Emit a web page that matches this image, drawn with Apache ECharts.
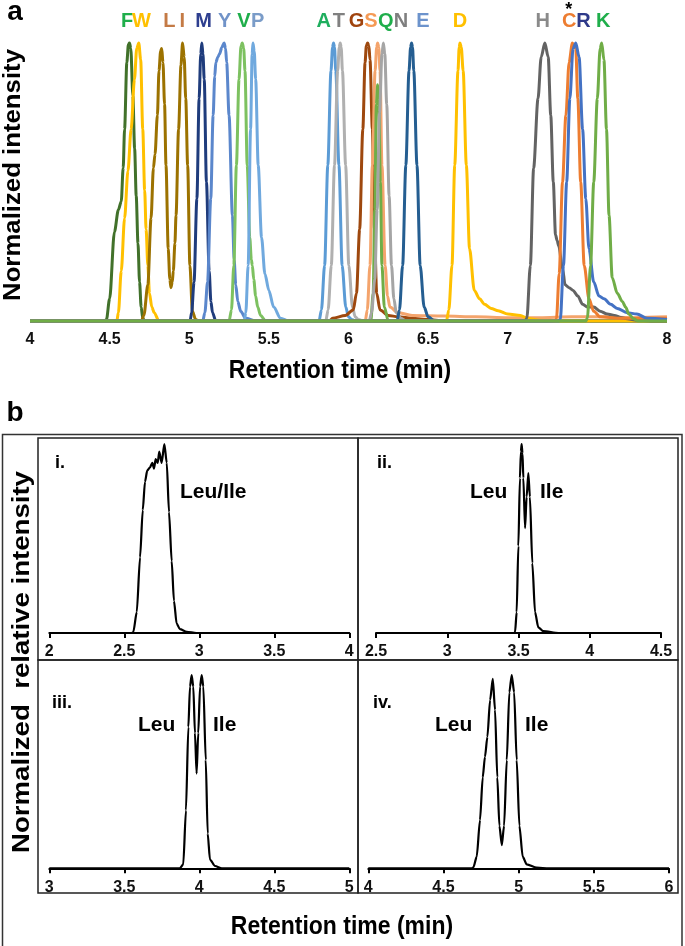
<!DOCTYPE html>
<html><head><meta charset="utf-8">
<script src="https://cdn.jsdelivr.net/npm/echarts@6/dist/echarts.min.js"></script>
<style>html,body{margin:0;padding:0;background:#fff}#c{width:685px;height:946px}</style>
</head><body><div id="c"></div><script>
// ---------- Panel a: amino-acid labels ----------
const aaLetters = ['F','W','L','I','M','Y','V','P','A','T','G','S','Q','N','E','D','H','C','R','K'];
const aaLabelTimes = [4.61,4.70,4.875,4.956,5.09,5.223,5.344,5.43,5.845,5.94,6.05,6.14,6.234,6.33,6.467,6.70,7.22,7.386,7.475,7.60];
const aaLabelColors = ['#1FAE4B','#FFC000','#C47A45','#C47A45','#2E3F8F','#7193C8','#1FAE4B','#7A9CC8','#1FAE5E','#808080','#A0440E','#F59A55','#1FAE4B','#7F7F7F','#6C93CC','#FFC000','#8A8A8A','#ED7D31','#2F3A8A','#1FAE4B'];
const asteriskTime = 7.383;
const xTicksA = [4, 4.5, 5, 5.5, 6, 6.5, 7, 7.5, 8];

// ---------- Panel a: traces [time (min), normalized intensity] ----------
const traceF = [[4,0],[4.47,0],[4.48,0.005],[4.50,0.08],[4.53,0.32],[4.555,0.4],[4.573,0.43],[4.585,0.55],[4.594,0.69],[4.608,0.93],[4.618,0.995],[4.625,1],[4.633,0.98],[4.646,0.81],[4.657,0.62],[4.667,0.45],[4.678,0.28],[4.688,0.14],[4.698,0.05],[4.708,0.01],[4.72,0],[8,0]];
const traceW = [[4,0],[4.545,0],[4.555,0.03],[4.573,0.18],[4.594,0.37],[4.615,0.54],[4.635,0.69],[4.656,0.87],[4.67,0.98],[4.683,1],[4.695,0.94],[4.708,0.69],[4.72,0.47],[4.729,0.33],[4.74,0.2],[4.75,0.1],[4.765,0.05],[4.78,0.03],[4.81,0],[8,0]];
const traceLI = [[4,0],[4.70,0],[4.715,0.02],[4.74,0.13],[4.76,0.37],[4.775,0.55],[4.785,0.6],[4.80,0.74],[4.81,0.9],[4.82,0.97],[4.827,0.98],[4.835,0.93],[4.845,0.78],[4.854,0.56],[4.868,0.26],[4.878,0.15],[4.885,0.12],[4.893,0.14],[4.9,0.18],[4.91,0.28],[4.917,0.38],[4.933,0.69],[4.948,0.92],[4.958,1],[4.968,0.95],[4.978,0.8],[4.99,0.56],[5.004,0.2],[5.02,0.035],[5.04,0.005],[5.06,0],[8,0]];
const traceM = [[4,0],[5.005,0],[5.015,0.03],[5.03,0.14],[5.048,0.44],[5.062,0.8],[5.072,0.96],[5.079,1],[5.086,0.96],[5.094,0.87],[5.108,0.5],[5.125,0.18],[5.136,0.07],[5.146,0.03],[5.167,0],[8,0]];
const traceY = [[4,0],[5.085,0],[5.098,0.03],[5.115,0.14],[5.135,0.44],[5.15,0.74],[5.16,0.88],[5.167,0.93],[5.18,0.95],[5.19,0.96],[5.205,0.985],[5.219,1],[5.228,0.98],[5.235,0.93],[5.25,0.74],[5.271,0.38],[5.282,0.22],[5.292,0.13],[5.305,0.07],[5.323,0.035],[5.354,0.01],[5.42,0],[8,0]];
const traceV = [[4,0],[5.25,0],[5.265,0.04],[5.28,0.2],[5.296,0.56],[5.3125,0.87],[5.325,0.99],[5.333,1],[5.342,0.98],[5.35,0.9],[5.364,0.56],[5.38,0.3],[5.39,0.22],[5.396,0.2],[5.405,0.15],[5.417,0.09],[5.43,0.05],[5.448,0.02],[5.48,0],[8,0]];
const traceP = [[4,0],[5.345,0],[5.355,0.03],[5.37,0.2],[5.385,0.69],[5.395,0.96],[5.40,1],[5.408,0.97],[5.417,0.87],[5.433,0.56],[5.454,0.3],[5.475,0.17],[5.5,0.11],[5.53,0.05],[5.573,0.01],[5.625,0],[8,0]];
const traceA = [[4,0],[5.815,0],[5.83,0.04],[5.85,0.2],[5.87,0.56],[5.89,0.9],[5.9,0.985],[5.906,1],[5.912,0.985],[5.92,0.9],[5.94,0.56],[5.96,0.2],[5.983,0.05],[6.0,0.015],[6.02,0.005],[6.05,0],[8,0]];
const traceT = [[4,0],[5.857,0],[5.872,0.04],[5.892,0.2],[5.912,0.56],[5.932,0.9],[5.942,0.985],[5.948,1],[5.954,0.985],[5.962,0.9],[5.982,0.56],[6.002,0.2],[6.025,0.05],[6.042,0.015],[6.062,0.005],[6.1,0],[8,0]];
const traceG = [[4,0],[5.88,0],[5.9,0.01],[5.98,0.02],[6.03,0.04],[6.05,0.1],[6.07,0.33],[6.09,0.69],[6.104,0.93],[6.112,0.99],[6.12,1],[6.128,0.99],[6.135,0.94],[6.15,0.69],[6.1625,0.33],[6.177,0.1],[6.198,0.04],[6.25,0.02],[6.31,0.015],[6.4,0.01],[6.5,0.005],[6.6,0],[8,0]];
const traceS = [[4,0],[6.105,0],[6.118,0.04],[6.135,0.2],[6.15,0.56],[6.167,0.9],[6.177,0.985],[6.183,1],[6.19,0.985],[6.198,0.9],[6.21,0.56],[6.23,0.2],[6.245,0.09],[6.26,0.05],[6.31,0.03],[6.4,0.02],[6.6,0.018],[6.8,0.015],[7.0,0.012],[7.2,0.012],[7.4,0.015],[7.6,0.015],[7.8,0.012],[8,0.015]];
const traceQ = [[4,0],[6.14,0],[6.155,0.1],[6.165,0.4],[6.175,0.78],[6.183,0.85],[6.19,0.8],[6.2,0.5],[6.21,0.2],[6.225,0.05],[6.25,0],[8,0]];
const traceN = [[4,0],[6.13,0],[6.145,0.03],[6.165,0.15],[6.18,0.4],[6.195,0.75],[6.21,0.96],[6.219,1],[6.228,0.96],[6.24,0.78],[6.255,0.45],[6.27,0.2],[6.285,0.08],[6.3,0.03],[6.33,0.01],[6.36,0],[8,0]];
const traceE = [[4,0],[6.305,0],[6.32,0.04],[6.34,0.2],[6.36,0.56],[6.38,0.9],[6.39,0.985],[6.396,1],[6.402,0.985],[6.41,0.9],[6.43,0.56],[6.45,0.2],[6.475,0.05],[6.5,0.015],[6.54,0],[8,0]];
const traceD = [[4,0],[6.615,0],[6.63,0.04],[6.65,0.2],[6.667,0.56],[6.6875,0.9],[6.695,0.985],[6.70,1],[6.708,0.985],[6.72,0.9],[6.74,0.56],[6.76,0.26],[6.79,0.11],[6.823,0.08],[6.854,0.06],[6.896,0.045],[6.94,0.037],[7.0,0.025],[7.08,0.02],[7.12,0.01],[7.2,0.003],[7.3,0],[8,0]];
const traceH = [[4,0],[7.11,0],[7.12,0.01],[7.142,0.2],[7.1625,0.55],[7.19,0.8],[7.21,0.95],[7.233,1],[7.254,0.95],[7.27,0.74],[7.286,0.5],[7.30,0.31],[7.31,0.29],[7.32,0.27],[7.344,0.19],[7.36,0.13],[7.385,0.12],[7.41,0.11],[7.44,0.09],[7.47,0.06],[7.5,0.05],[7.54,0.05],[7.58,0.035],[7.625,0.025],[7.67,0.02],[7.71,0.013],[7.75,0.008],[7.81,0.003],[7.9,0],[8,0]];
const traceC = [[4,0],[7.3,0],[7.306,0.01],[7.323,0.17],[7.344,0.5],[7.365,0.74],[7.385,0.93],[7.406,1],[7.427,0.98],[7.44,0.8],[7.458,0.5],[7.48,0.2],[7.51,0.08],[7.54,0.035],[7.58,0.015],[7.7,0.01],[8,0.01]];
const traceR = [[4,0],[7.32,0],[7.33,0.005],[7.35,0.2],[7.37,0.5],[7.39,0.8],[7.41,0.98],[7.427,1],[7.448,0.95],[7.47,0.69],[7.49,0.44],[7.51,0.26],[7.54,0.14],[7.573,0.09],[7.604,0.08],[7.646,0.06],[7.6875,0.045],[7.75,0.03],[7.81,0.025],[7.875,0.01],[8,0.005]];
const traceK = [[4,0],[7.49,0],[7.5,0.01],[7.52,0.2],[7.54,0.5],[7.5625,0.8],[7.58,0.98],[7.59,1],[7.604,0.94],[7.62,0.69],[7.636,0.38],[7.656,0.156],[7.6875,0.1],[7.72,0.07],[7.74,0.05],[7.76,0.025],[7.79,0.008],[7.82,0],[8,0]];

const tracesA = [traceF,traceW,traceLI,traceM,traceY,traceV,traceP,traceA,traceT,traceG,traceS,traceQ,traceN,traceE,traceD,traceH,traceC,traceR,traceK];
const traceNames = ['F','W','L/I','M','Y','V','P','A','T','G','S','Q','N','E','D','H','C','R','K'];
const traceColors = ['#41712A','#FFC000','#9C7200','#1F3C7C','#5B87CC','#7DC160','#70A9DE','#5B9BD5','#B0B0B0','#9E480E','#F4A46C','#70AD47','#A5A5A5','#255E91','#FFC000','#636363','#ED7D31','#4472C4','#70AD47'];

// ---------- Panel b: Leu/Ile traces ----------
const traceBi = [[2,0],[2.55,0],[2.56,0.005],[2.583,0.11],[2.605,0.4],[2.623,0.65],[2.638,0.8],[2.653,0.86],[2.67,0.875],[2.687,0.9],[2.698,0.87],[2.709,0.92],[2.723,0.9],[2.733,0.96],[2.749,0.9],[2.767,1],[2.783,0.9],[2.798,0.64],[2.816,0.38],[2.831,0.17],[2.849,0.05],[2.871,0.02],[2.916,0.006],[2.98,0],[4,0]];
const traceBii = [[2.5,0],[3.47,0],[3.476,0.005],[3.487,0.11],[3.499,0.46],[3.51,0.82],[3.517,0.96],[3.522,1],[3.528,0.95],[3.534,0.82],[3.546,0.555],[3.557,0.72],[3.569,0.846],[3.58,0.72],[3.597,0.37],[3.616,0.11],[3.639,0.03],[3.674,0.01],[3.78,0],[4.5,0]];
const traceBiii = [[3,0],[3.87,0],[3.893,0.02],[3.911,0.3],[3.927,0.73],[3.938,0.94],[3.949,1],[3.96,0.94],[3.971,0.7],[3.982,0.49],[3.993,0.7],[4.005,0.94],[4.016,1],[4.027,0.94],[4.043,0.56],[4.056,0.18],[4.071,0.045],[4.105,0.012],[4.15,0],[5,0]];
const traceBiv = [[4,0],[4.69,0],[4.699,0.005],[4.721,0.06],[4.743,0.25],[4.761,0.47],[4.776,0.577],[4.792,0.68],[4.81,0.87],[4.828,0.98],[4.843,0.82],[4.858,0.47],[4.872,0.22],[4.888,0.12],[4.903,0.22],[4.921,0.56],[4.938,0.91],[4.954,1],[4.97,0.91],[4.987,0.56],[5.005,0.22],[5.027,0.06],[5.054,0.02],[5.12,0.003],[5.2,0],[6,0]];
const bRanges = [[2,4],[2.5,4.5],[3,5],[4,6]];
const bTraces = [traceBi, traceBii, traceBiii, traceBiv];
const bPanelLabels = ['i.','ii.','iii.','iv.'];

const FONT = '"Liberation Sans", Arial, Helvetica, sans-serif';
const chart = echarts.init(document.getElementById('c'));

const grids = [
  {left:30, top:1.3, width:637, height:319.7},
  {left:49.3, top:444, width:300, height:189},
  {left:376, top:444, width:285, height:189},
  {left:49.3, top:675, width:300, height:193.3},
  {left:368.3, top:675, width:300.7, height:193.3}
];

const xAxes = [{
  gridIndex:0, type:'value', min:xTicksA[0], max:xTicksA[xTicksA.length-1], interval:0.5,
  axisLine:{show:false}, axisTick:{show:false}, splitLine:{show:false},
  axisLabel:{fontSize:16, fontWeight:'bold', color:'#111', fontFamily:FONT, margin:11, showMinLabel:true, showMaxLabel:true}
}];
const yAxes = [{gridIndex:0, type:'value', min:0, max:1.15, show:false}];
bRanges.forEach((r,i)=>{
  xAxes.push({
    gridIndex:i+1, type:'value', min:r[0], max:r[1], interval:0.5,
    axisLine:{show:true, onZero:false, lineStyle:{color:'#000', width:2}},
    axisTick:{show:true, inside:false, length:5, lineStyle:{color:'#000', width:2}},
    splitLine:{show:false},
    axisLabel:{fontSize:16, fontWeight:'bold', color:'#111', fontFamily:FONT, margin:11, showMinLabel:true, showMaxLabel:true}
  });
  yAxes.push({gridIndex:i+1, type:'value', min:0, max:1, show:false});
});

const series = [];
tracesA.forEach((tr,i)=>{
  series.push({
    type:'line', name:traceNames[i], xAxisIndex:0, yAxisIndex:0, data:tr,
    showSymbol:false, smooth:0.3, smoothMonotone:'x', clip:false,
    lineStyle:{color:traceColors[i], width:3}, silent:true
  });
});
const letterData = aaLetters.map((l,i)=>({name:l, value:[aaLabelTimes[i],1.079], label:{color:aaLabelColors[i]}}));
letterData.push({name:'*', value:[asteriskTime,1.12], label:{color:'#000', fontSize:18}});
series.push({
  type:'scatter', xAxisIndex:0, yAxisIndex:0, data:letterData, symbolSize:1,
  itemStyle:{color:'rgba(255,255,255,0)'}, clip:false, silent:true, z:5,
  label:{show:true, position:'inside', formatter:'{b}', fontSize:20, fontWeight:'bold', fontFamily:FONT, opacity:1},
  labelLayout:{hideOverlap:false}
});
bTraces.forEach((tr,i)=>{
  series.push({
    type:'line', xAxisIndex:i+1, yAxisIndex:i+1, data:tr,
    showSymbol:false, smooth:0.25, smoothMonotone:'x', clip:false,
    lineStyle:{color:'#000', width:2.2}, silent:true
  });
});

function txt(x,y,text,size,opts){
  opts = opts||{};
  return Object.assign({
    type:'text', x:x, y:y, silent:true,
    style:{text:text, fill:opts.fill||'#000', font:'bold '+size+'px '+FONT,
      textAlign:opts.align||'center', align:opts.align||'center',
      textVerticalAlign:'middle', verticalAlign:'middle'}
  }, opts.el||{});
}
const boxStyle = {fill:'none', stroke:'#222', lineWidth:1.5};
const graphics = [
  txt(15,12,'a',28),
  txt(15,413,'b',28),
  txt(14,175,'Normalized intensity',23,{el:{rotation:Math.PI/2, scaleX:1.12}}),
  txt(340,371,'Retention time (min)',23,{el:{scaleY:1.1}}),
  {type:'rect', shape:{x:2.5, y:434.5, width:679.5, height:530}, style:{fill:'none', stroke:'#333', lineWidth:1.5}, silent:true},
  {type:'rect', shape:{x:38, y:438, width:320, height:222}, style:boxStyle, silent:true},
  {type:'rect', shape:{x:358, y:438, width:320, height:222}, style:boxStyle, silent:true},
  {type:'rect', shape:{x:38, y:660, width:320, height:233}, style:boxStyle, silent:true},
  {type:'rect', shape:{x:358, y:660, width:320, height:233}, style:boxStyle, silent:true},
  txt(55,463,bPanelLabels[0],18,{align:'left'}),
  txt(377,463,bPanelLabels[1],18,{align:'left'}),
  txt(52,703,bPanelLabels[2],18,{align:'left'}),
  txt(373,703,bPanelLabels[3],18,{align:'left'}),
  txt(180,492,'Leu/Ile',21,{align:'left'}),
  txt(470,492,'Leu',21,{align:'left'}),
  txt(540,492,'Ile',21,{align:'left'}),
  txt(138,725,'Leu',21,{align:'left'}),
  txt(213,725,'Ile',21,{align:'left'}),
  txt(435,725,'Leu',21,{align:'left'}),
  txt(525,725,'Ile',21,{align:'left'}),
  txt(22,662,'Normalized  relative intensity',24,{el:{rotation:Math.PI/2, scaleX:1.15}}),
  txt(342,927,'Retention time (min)',23,{el:{scaleY:1.1}})
];

chart.setOption({
  animation:false,
  backgroundColor:'#fff',
  grid:grids, xAxis:xAxes, yAxis:yAxes, series:series, graphic:graphics
});
</script></body></html>
